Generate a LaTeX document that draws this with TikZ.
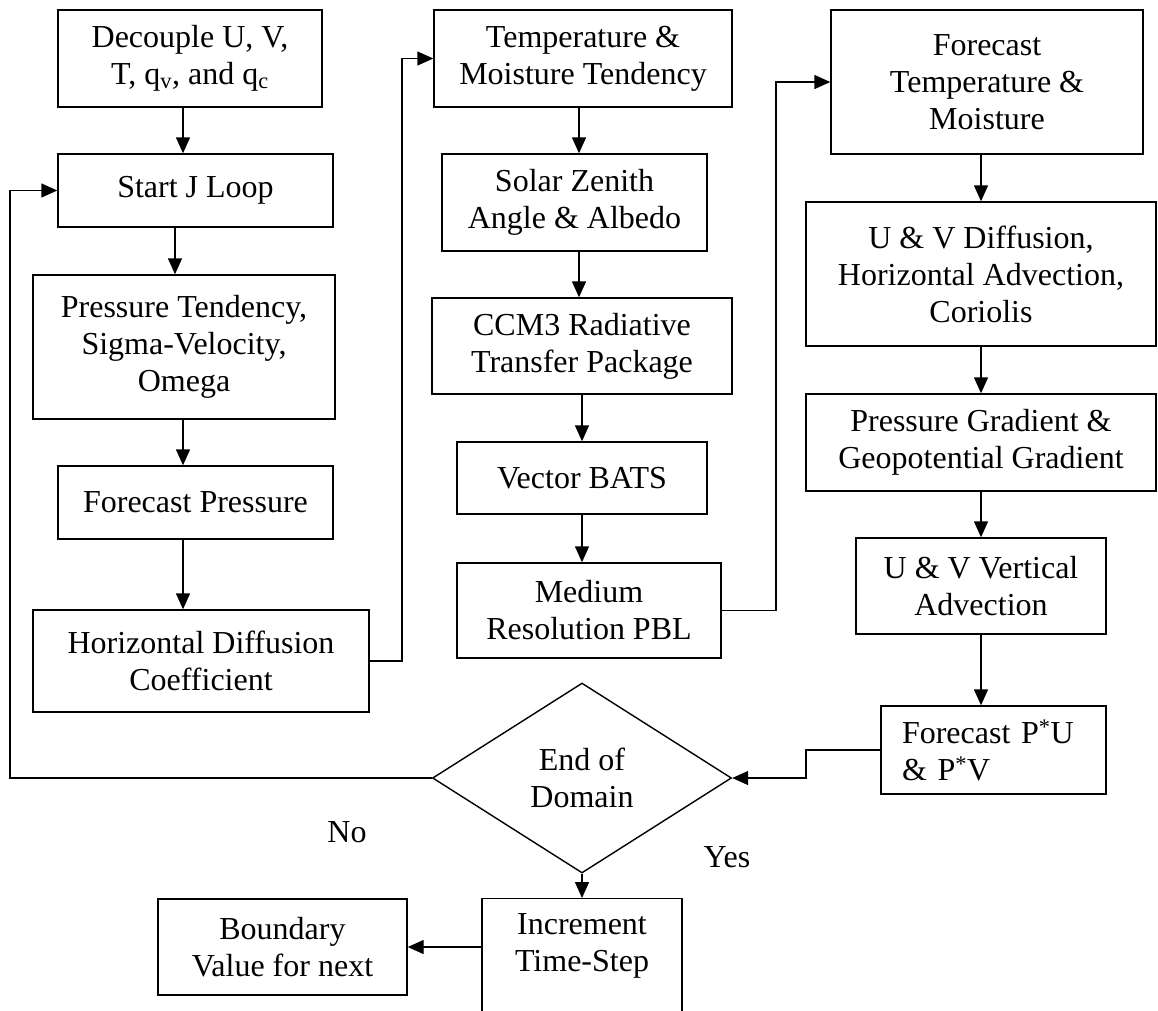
\documentclass[tikz,border=0pt]{standalone}
\usepackage{fontspec}
\setmainfont{Liberation Serif}
\usetikzlibrary{arrows.meta,shapes.geometric}
\begin{document}
\begin{tikzpicture}[x=1pt,y=-1pt,
  every node/.style={font=\fontsize{32}{37}\selectfont, inner sep=2pt},
  box/.style={draw, line width=1.4pt, rectangle, align=center},
  txt/.style={align=center},
  conn/.style={line width=1.4pt},
  arr/.style={line width=1.4pt, -{Triangle[length=16pt,width=14pt]}}]
\useasboundingbox (0,0) rectangle (1158,1010);
\fill[white] (0,0) rectangle (1158,1010);
\clip (0,0) rectangle (1158,1010);

% column x-coordinates for connectors
\coordinate (xa) at (183,0);
\coordinate (xb) at (175,0);
\coordinate (xc) at (579,0);
\coordinate (xd) at (582,0);
\coordinate (xe) at (981,0);
\coordinate (c1) at (402,0);
\coordinate (c2) at (776,0);
\coordinate (c3) at (806,0);
\coordinate (c4) at (10,0);

% left column
\node[box, minimum width=264pt, minimum height=97pt] (dec) at (190,58.5) {Decouple U, V,\\T, q\textsubscript{v}, and q\textsubscript{c}};
\node[box, minimum width=275pt, minimum height=73pt] (start) at (195.5,190.5) {Start J Loop};
\node[box, minimum width=302pt, minimum height=144pt] (ptend) at (184,347) {Pressure Tendency,\\Sigma-Velocity,\\Omega};
\node[box, minimum width=275pt, minimum height=73pt] (fp) at (195.5,502.5) {Forecast Pressure};
\node[box, minimum width=336pt, minimum height=102pt] (hd) at (201,661) {Horizontal Diffusion\\Coefficient};

% middle column
\node[box, minimum width=298pt, minimum height=97pt] (temp) at (583,58.5) {Temperature \&\\Moisture Tendency};
\node[box, minimum width=265pt, minimum height=97pt] (solar) at (574.5,202.5) {Solar Zenith\\Angle \& Albedo};
\node[box, minimum width=300pt, minimum height=96pt] (ccm) at (582,346) {CCM3 Radiative\\Transfer Package};
\node[box, minimum width=250pt, minimum height=72pt] (bats) at (582,478) {Vector BATS};
\node[box, minimum width=264pt, minimum height=95pt] (med) at (589,610.5) {Medium\\Resolution PBL};

% right column
\node[box, minimum width=312pt, minimum height=144pt] (ft) at (987,82) {Forecast\\Temperature \&\\Moisture};
\node[box, minimum width=350pt, minimum height=144pt] (uvd) at (981,274) {U \& V Diffusion,\\Horizontal Advection,\\Coriolis};
\node[box, minimum width=350pt, minimum height=97pt] (pg) at (981,442.5) {Pressure Gradient \&\\Geopotential Gradient};
\node[box, minimum width=250pt, minimum height=96pt] (uvv) at (981,586) {U \& V Vertical\\Advection};
\node[box, align=left, text width=183pt, inner xsep=21pt, inner ysep=0pt, minimum height=88pt] (fpu) at (993.5,750) {Forecast P\textsuperscript{*}U\\\& P\textsuperscript{*}V};

% decision and bottom
\node[diamond, draw, line width=1.4pt, aspect=1.574, minimum width=299pt, minimum height=190pt, inner sep=0pt, align=center] (dia) at (582,778) {End of\\Domain};
\node[box, minimum width=200pt, minimum height=150pt, anchor=north] (inc) at (582,898) {};
\node[txt] (inctxt) at (582,946) {Increment\\Time-Step};
\node[box, minimum width=249pt, minimum height=96pt] (bd) at (282.5,947) {Boundary\\Value for next};
\node (nolbl) at (347,832) {No};
\node (yeslbl) at (727,857) {Yes};

% vertical arrows
\draw[arr] (dec.south -| xa) -- (start.north -| xa);
\draw[arr] (start.south -| xb) -- (ptend.north -| xb);
\draw[arr] (ptend.south -| xa) -- (fp.north -| xa);
\draw[arr] (fp.south -| xa) -- (hd.north -| xa);

\draw[arr] (temp.south -| xc) -- (solar.north -| xc);
\draw[arr] (solar.south -| xc) -- (ccm.north -| xc);
\draw[arr] (ccm.south -| xd) -- (bats.north -| xd);
\draw[arr] (bats.south -| xd) -- (med.north -| xd);

\draw[arr] (ft.south -| xe) -- (uvd.north -| xe);
\draw[arr] (uvd.south -| xe) -- (pg.north -| xe);
\draw[arr] (pg.south -| xe) -- (uvv.north -| xe);
\draw[arr] (uvv.south -| xe) -- (fpu.north -| xe);

% column transfers
\draw[arr] (hd.east) -- (c1 |- hd.east) -- (c1 |- temp.west) -- (temp.west);
\draw[arr] (med.east) -- (c2 |- med.east) -- (c2 |- ft.west) -- (ft.west);
\draw[arr] (fpu.west) -- (c3 |- fpu.west) -- (c3 |- dia.east) -- (dia.east);

% loop back
\draw[arr] (dia.west) -- (c4 |- dia.west) -- (c4 |- start.west) -- (start.west);

% bottom
\draw[arr] (dia.south) -- (inc.north);
\draw[arr] (inc.west |- bd.east) -- (bd.east);
\end{tikzpicture}
\end{document}
